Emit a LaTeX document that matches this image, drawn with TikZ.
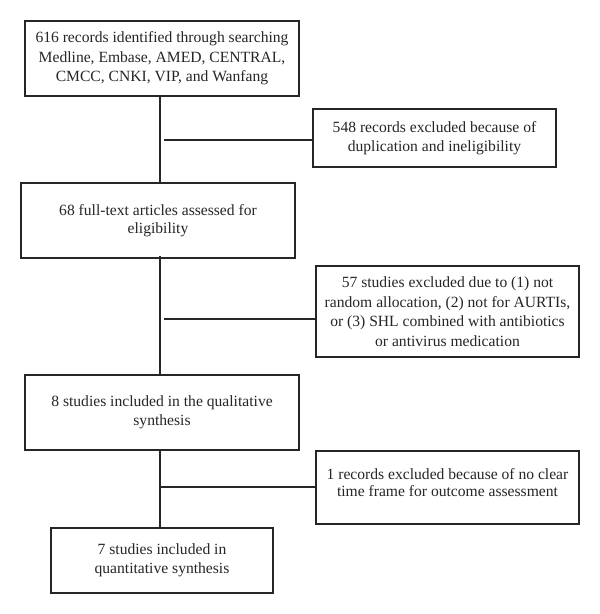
\documentclass[tikz,border=0pt]{standalone}
\usepackage{fontspec}
\setmainfont{Liberation Serif}
\begin{document}
\begin{tikzpicture}[x=1pt,y=-1pt,
  box/.style={draw=black!85,line width=1.1pt,rectangle,inner sep=0pt,align=center,
    font=\fontsize{15.6}{19.5}\selectfont,text=black!85},
  conn/.style={draw=black!85,line width=1.1pt}]
\useasboundingbox[fill=white] (0,0) rectangle (600,614);
\node[box,minimum width=274pt,minimum height=75pt] (b1) at (162,58.5)
  {616 records identified through searching\\ Medline, Embase, AMED, CENTRAL,\\ CMCC, CNKI, VIP, and Wanfang};
\node[box,minimum width=243pt,minimum height=58pt] (b2) at (434.5,138)
  {548 records excluded because of\\ duplication and ineligibility};
\node[box,minimum width=274pt,minimum height=75pt,font=\fontsize{15.6}{18}\selectfont] (b3) at (158,220.5)
  {68 full-text articles assessed for\\ eligibility};
\node[box,minimum width=263pt,minimum height=91pt] (b4) at (447.5,311.5)
  {57 studies excluded due to (1) not\\ random allocation, (2) not for AURTIs,\\ or (3) SHL combined with antibiotics\\ or antivirus medication};
\node[box,minimum width=274pt,minimum height=75pt] (b5) at (162,412.5)
  {8 studies included in the qualitative\\ synthesis};
\node[box,minimum width=263pt,minimum height=73pt,font=\fontsize{15.6}{17.5}\selectfont] (b6) at (447.5,487.5)
  {1 records excluded because of no clear\\ time frame for outcome assessment\\[-8pt]\mbox{}};
\node[box,minimum width=222pt,minimum height=65pt] (b7) at (162,560.5)
  {7 studies included in\\ quantitative synthesis};
\coordinate (j1) at (160,140);
\coordinate (j2) at (160,319);
\coordinate (j3) at (160,487);
\draw[conn] (b1.south -| j1) -- (b3.north -| j1);
\draw[conn] ([xshift=4pt]j1) -- (b2.west |- j1);
\draw[conn] ([yshift=3pt]b3.south -| j2) -- (b5.north -| j2);
\draw[conn] ([xshift=4pt]j2) -- (b4.west |- j2);
\draw[conn] (b5.south -| j3) -- (b7.north -| j3);
\draw[conn] (j3) -- (b6.west |- j3);
\end{tikzpicture}
\end{document}
